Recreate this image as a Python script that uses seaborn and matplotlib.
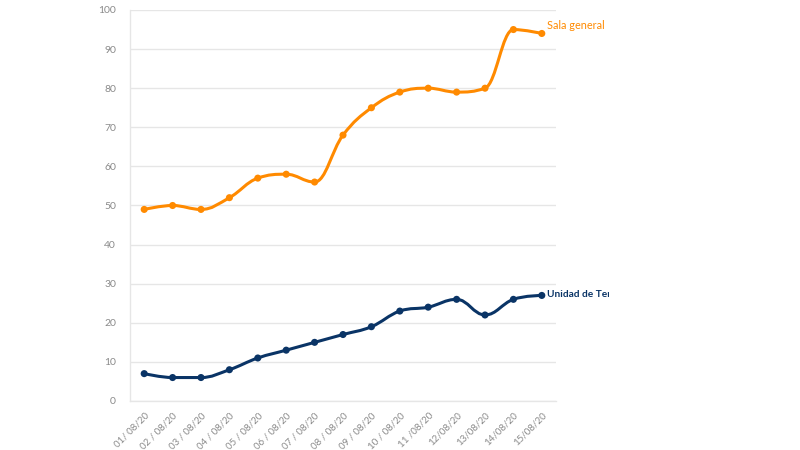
import matplotlib
matplotlib.use('Agg')
import matplotlib.pyplot as plt
import seaborn as sns
import pandas as pd
from matplotlib.path import Path
from matplotlib.patches import PathPatch, Rectangle

dates = ['01/ 08/20', '02 / 08/20', '03 / 08/20', '04 / 08/20', '05 / 08/20',
         '06 / 08/20', '07 / 08/20', '08 / 08/20', '09 / 08/20', '10 / 08/20',
         '11 /08/20', '12/08/20', '13/08/20', '14/08/20', '15/08/20']
sala_general = [49, 50, 49, 52, 57, 58, 56, 68, 75, 79, 80, 79, 80, 95, 94]
unidad_terapia = [7, 6, 6, 8, 11, 13, 15, 17, 19, 23, 24, 26, 22, 26, 27]

ORANGE = '#ff8a00'
NAVY = '#0a3466'
GRID = '#e6e6e6'
TICK = '#8a8a8a'


def spline_path(xs, ys, smoothing=1.5):
    # smooth curve through the points, built from cubic bezier segments
    n = len(xs)
    ctrl = []
    for i in range(n):
        if i == 0 or i == n - 1:
            ctrl.append(((xs[i], ys[i]), (xs[i], ys[i])))
            continue
        x, y = xs[i], ys[i]
        lx, ly = xs[i - 1], ys[i - 1]
        nx, ny = xs[i + 1], ys[i + 1]
        d = smoothing + 1
        lcx = (smoothing * x + lx) / d
        lcy = (smoothing * y + ly) / d
        rcx = (smoothing * x + nx) / d
        rcy = (smoothing * y + ny) / d
        corr = ((rcy - lcy) * (rcx - x)) / (rcx - lcx) + y - rcy
        lcy += corr
        rcy += corr
        if lcy > ly and lcy > y:
            lcy = max(ly, y)
            rcy = 2 * y - lcy
        elif lcy < ly and lcy < y:
            lcy = min(ly, y)
            rcy = 2 * y - lcy
        if rcy > ny and rcy > y:
            rcy = max(ny, y)
            lcy = 2 * y - rcy
        elif rcy < ny and rcy < y:
            rcy = min(ny, y)
            lcy = 2 * y - rcy
        ctrl.append(((lcx, lcy), (rcx, rcy)))
    verts = [(xs[0], ys[0])]
    codes = [Path.MOVETO]
    for i in range(1, n):
        verts += [ctrl[i - 1][1], ctrl[i][0], (xs[i], ys[i])]
        codes += [Path.CURVE4] * 3
    return Path(verts, codes)


df = pd.DataFrame({'fecha': list(range(len(dates))) * 2,
                   'valor': sala_general + unidad_terapia,
                   'serie': ['Sala general'] * len(dates) + ['Unidad de Terapia Intensiva'] * len(dates)})

sns.set_style('white')
plt.rcParams['font.family'] = ['Lato', 'DejaVu Sans']

fig = plt.figure(figsize=(8, 4.5), dpi=100)
ax = fig.add_axes([130 / 800, 1 - 401 / 450, 426 / 800, 391 / 450])

xs = list(range(len(dates)))
for vals, col in [(sala_general, ORANGE), (unidad_terapia, NAVY)]:
    ax.add_patch(PathPatch(spline_path(xs, vals), facecolor='none', edgecolor=col,
                           lw=2.2, capstyle='round', joinstyle='round', zorder=3))

sns.scatterplot(data=df, x='fecha', y='valor', hue='serie',
                palette=[ORANGE, NAVY], s=26, edgecolor='none', legend=False,
                ax=ax, zorder=4)

ax.set_xlim(-0.5, len(dates) - 0.5)
ax.set_ylim(0, 100)
ax.set_yticks(range(0, 101, 10))
ax.set_xticks(xs)
ax.set_xticklabels(dates, rotation=45, ha='right', va='top', rotation_mode='anchor')
ax.tick_params(axis='x', colors=GRID, labelcolor=TICK, labelsize=7, length=6, width=1, pad=1)
ax.tick_params(axis='y', colors=GRID, labelcolor=TICK, labelsize=7.5, length=8, width=1, pad=2)
ax.grid(axis='y', color=GRID, lw=1)
ax.set_axisbelow(True)
for side in ['top', 'right']:
    ax.spines[side].set_visible(False)
for side in ['left', 'bottom']:
    ax.spines[side].set_color(GRID)
    ax.spines[side].set_linewidth(1)
ax.set_xlabel('')
ax.set_ylabel('')

ax.annotate('Sala general', xy=(xs[-1], sala_general[-1]), xytext=(4, 2),
            textcoords='offset points', color=ORANGE, fontsize=7.8, va='bottom',
            ha='left', annotation_clip=False)
lbl = ax.annotate('Unidad de Terapia Intensiva', xy=(xs[-1], unidad_terapia[-1]),
                  xytext=(3.5, 1), textcoords='offset points', color=NAVY,
                  fontsize=7.3, fontweight='bold', va='center', ha='left',
                  annotation_clip=False)
lbl.set_clip_on(True)
lbl.set_clip_path(Rectangle((0, 0), 609 / 800, 1, transform=fig.transFigure))

fig.savefig('out.png', dpi=100)
